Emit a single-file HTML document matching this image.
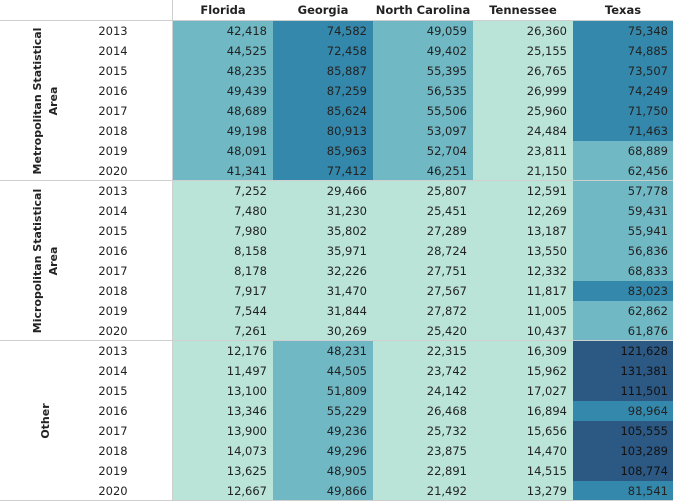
<!DOCTYPE html>
<html><head><meta charset="utf-8">
<style>
body{margin:0;background:#fff;}
#t{position:relative;width:673px;height:501px;font-family:"DejaVu Sans","Liberation Sans",sans-serif;font-size:11.5px;color:#222;overflow:hidden;}
.c{position:absolute;height:20px;line-height:20px;text-align:right;box-sizing:border-box;padding-right:6px;}
.h{position:absolute;top:0;height:20px;line-height:20px;text-align:center;font-weight:bold;}
.y{position:absolute;left:88px;width:50px;text-align:center;height:20px;line-height:20px;}
.g{position:absolute;font-weight:bold;text-align:center;line-height:16px;font-size:11px;transform:rotate(-90deg);white-space:nowrap;}
.ln{position:absolute;background:#cfcfcf;}
</style></head><body>
<div id="t"></div>
<script>
const states=["Florida","Georgia","North Carolina","Tennessee","Texas"];
const groups=["Metropolitan Statistical|Area","Micropolitan Statistical|Area","Other"];
const years=["2013","2014","2015","2016","2017","2018","2019","2020"];
const florida=[42418,44525,48235,49439,48689,49198,48091,41341,7252,7480,7980,8158,8178,7917,7544,7261,12176,11497,13100,13346,13900,14073,13625,12667];
const georgia=[74582,72458,85887,87259,85624,80913,85963,77412,29466,31230,35802,35971,32226,31470,31844,30269,48231,44505,51809,55229,49236,49296,48905,49866];
const northCarolina=[49059,49402,55395,56535,55506,53097,52704,46251,25807,25451,27289,28724,27751,27567,27872,25420,22315,23742,24142,26468,25732,23875,22891,21492];
const tennessee=[26360,25155,26765,26999,25960,24484,23811,21150,12591,12269,13187,13550,12332,11817,11005,10437,16309,15962,17027,16894,15656,14470,14515,13279];
const texas=[75348,74885,73507,74249,71750,71463,68889,62456,57778,59431,55941,56836,68833,83023,62862,61876,121628,131381,111501,98964,105555,103289,108774,81541];
const series=[florida,georgia,northCarolina,tennessee,texas];
const T=document.getElementById('t');
const x0=173,cw=100,top0=21,rh=20;
function color(v){return v<40000?'#bbe4d8':v<70000?'#6fb8c4':v<100000?'#3488ab':'#2c5884';}
function add(cls,css,txt){const d=document.createElement('div');d.className=cls;Object.assign(d.style,css);if(txt!==undefined)d.textContent=txt;T.appendChild(d);return d;}
states.forEach((s,i)=>{const d=add('h',{left:(x0+i*cw)+'px',width:cw+'px'},s);

});
groups.forEach((g,gi)=>{
 years.forEach((y,yi)=>{const r=gi*8+yi;const top=top0+r*rh;
  const d=add('y',{top:top+'px'},y);
  
  
  series.forEach((arr,si)=>{const v=arr[r];
   const c=add('c',{left:(x0+si*cw)+'px',width:(si==4?cw+1:cw)+'px',top:top+'px',background:color(v),color:v>=100000?'#111':'#222'},v.toLocaleString('en-US'));
   
   });
 });
 const cy=top0+gi*160+80;const parts=g.split('|');
 const gl=add('g',{left:(46-80)+'px',width:'160px',top:(cy-parts.length*8)+'px'});
 gl.innerHTML=parts.join('<br>');
 
 
});
const l1=add('ln',{left:'0',top:'20px',width:'673px',height:'1px'});


[180,340,500].forEach(y=>{const l=add('ln',{left:'0',top:y+'px',width:'673px',height:'1px'});

});
const lv=add('ln',{left:'172px',top:'0',width:'1px',height:'501px'});


</script>
</body></html>
